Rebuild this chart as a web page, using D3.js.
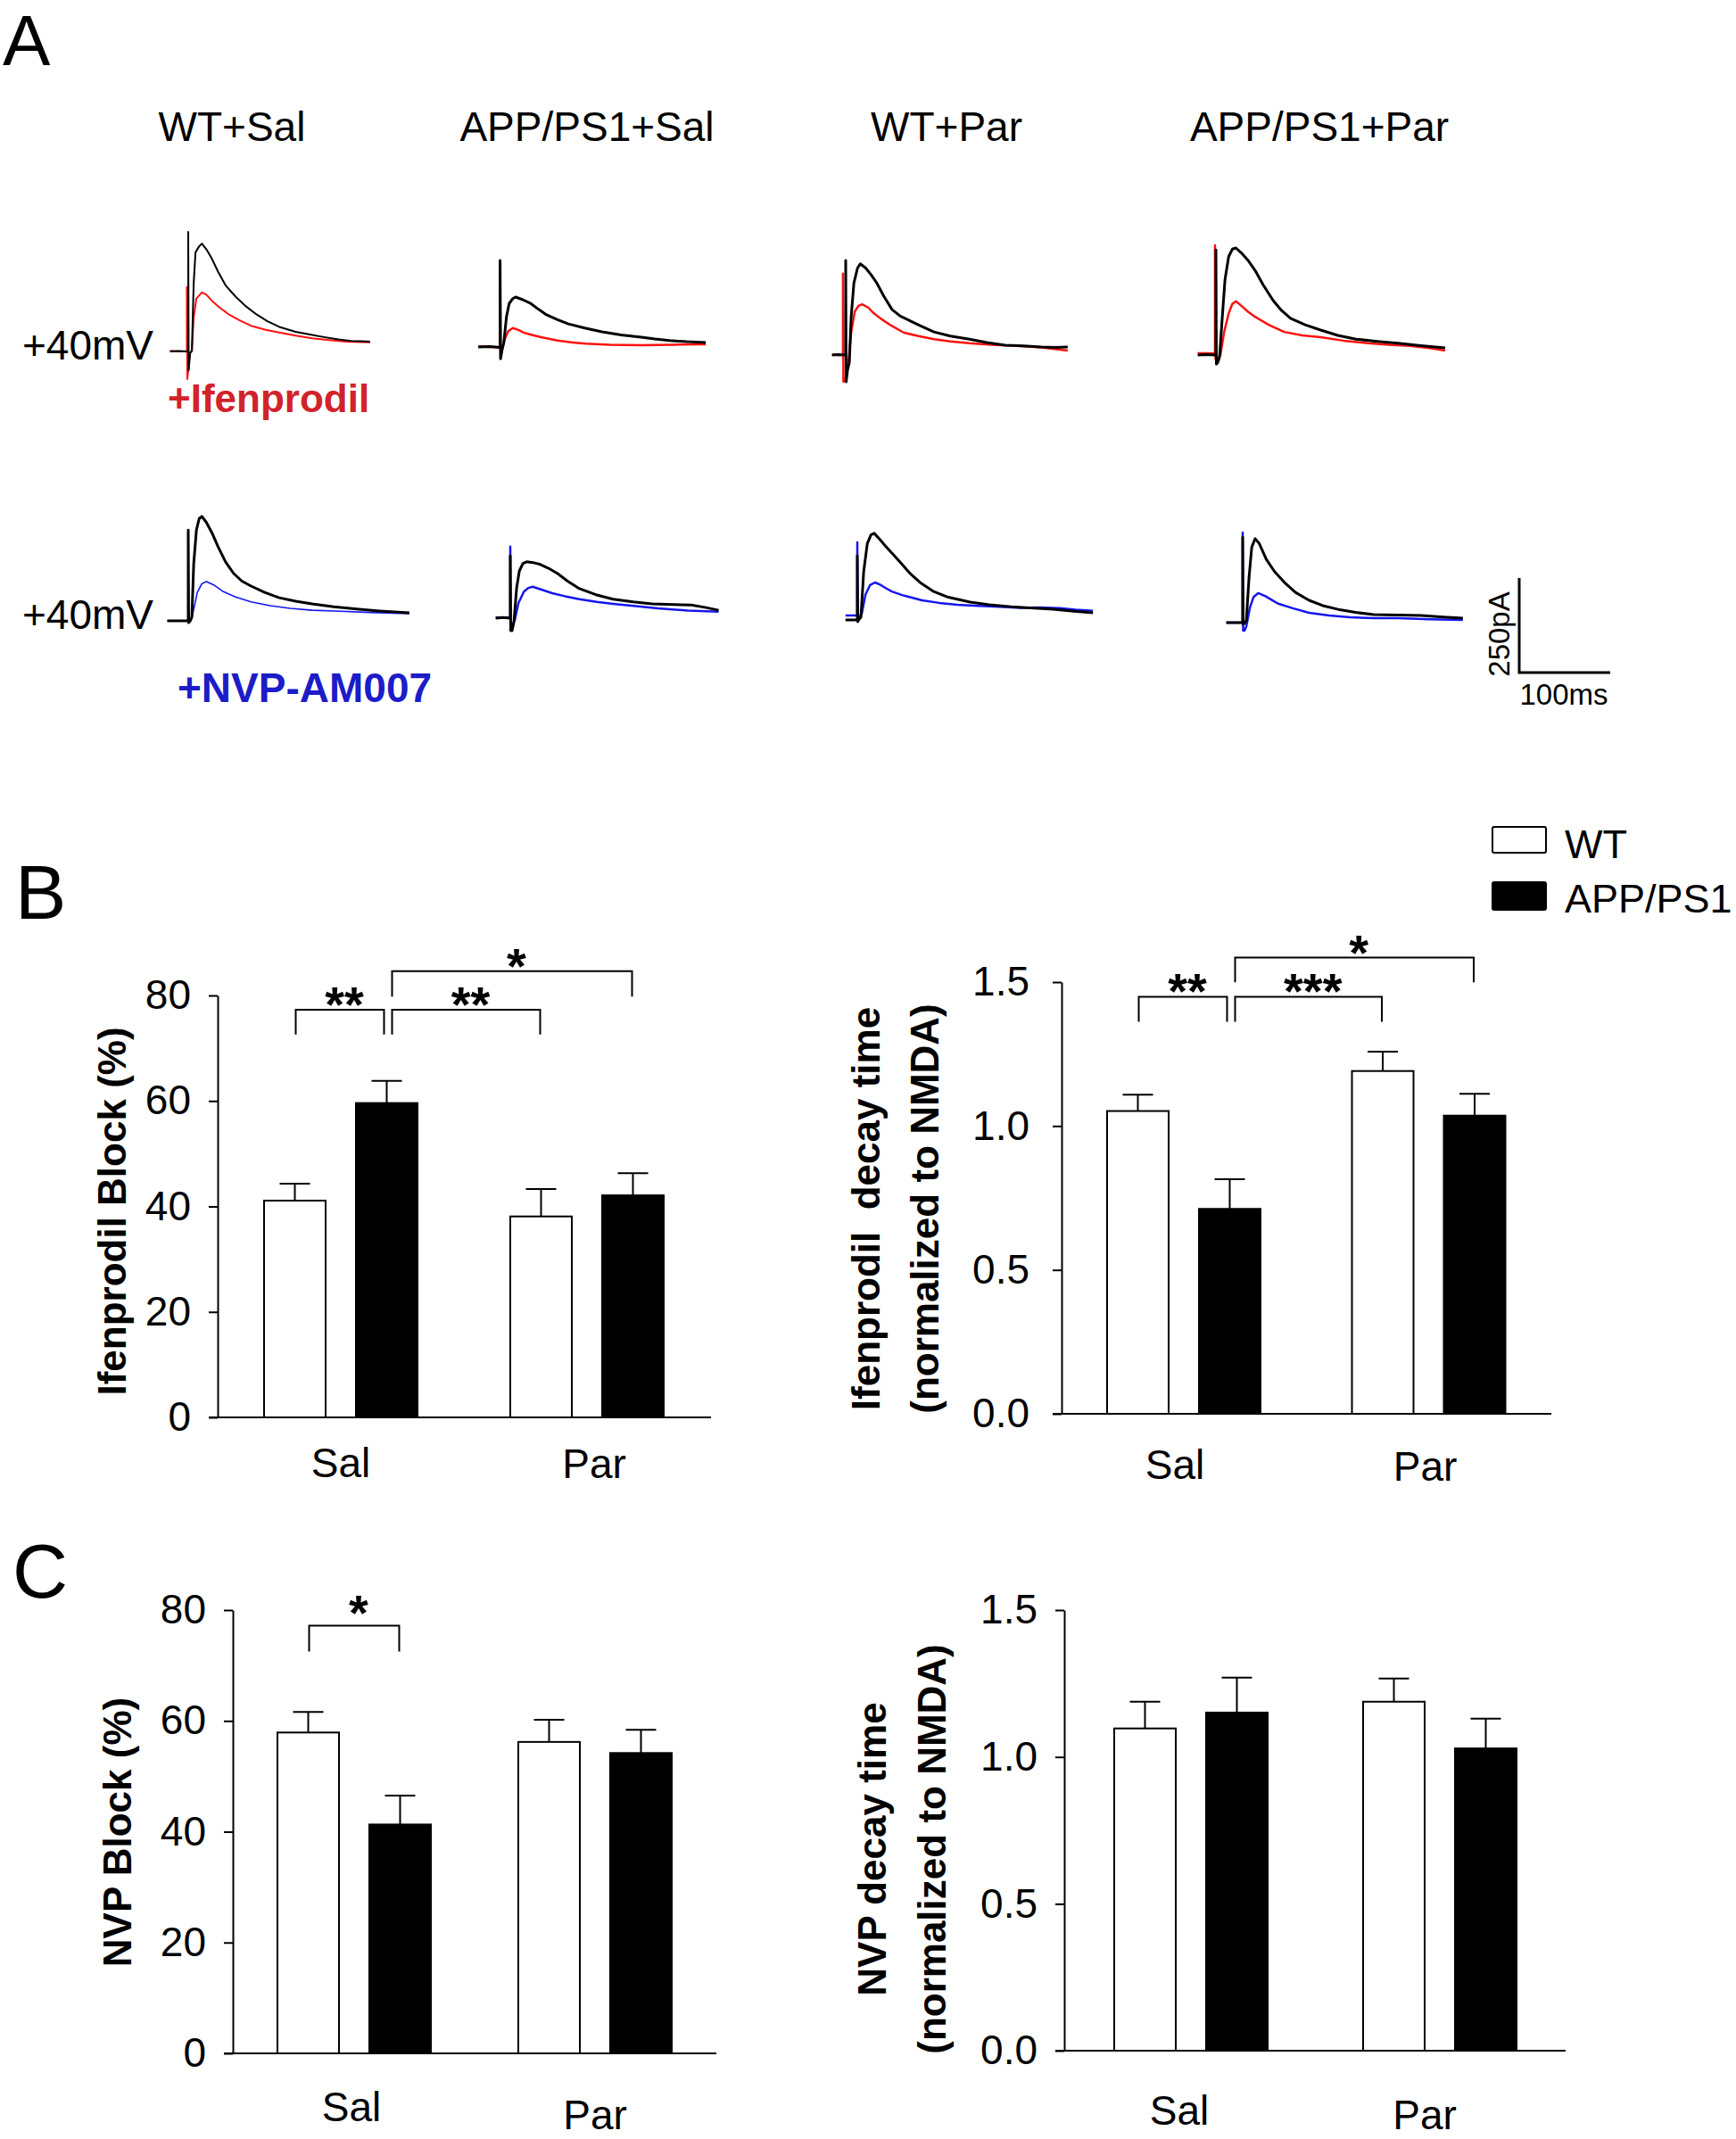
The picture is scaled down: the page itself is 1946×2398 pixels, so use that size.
<!DOCTYPE html>
<html><head><meta charset="utf-8">
<script src="https://cdn.jsdelivr.net/npm/d3@7"></script>
<style>
html,body{margin:0;padding:0;background:#fff;}
svg{display:block;font-family:"Liberation Sans",Arial,Helvetica,sans-serif;}
</style></head><body>
<svg id="fig" width="1946" height="2398"></svg>
<script>
// ================= DATA =================
const conditions = ["WT+Sal", "APP/PS1+Sal", "WT+Par", "APP/PS1+Par"];
const categories = ["Sal", "Par"];
const genotypes = ["WT", "APP/PS1"];

// Panel A traces: [time (ms from stimulus), current (pA from baseline)]
const ifenCtrlWTSal = [[-20,0],[-10,1],[-1,0],[0,0],[0,316],[0.5,-50],[2,-5],[4,2],[6,180],[8,262],[12,278],[15,285],[20,270],[26,245],[33,210],[41,175],[52,145],[63,120],[75,98],[87,80],[100,65],[118,52],[135,44],[149,38],[165,32],[179,28],[190,27],[200,26]];
const ifenDrugWTSal = [[-20,2],[-10,0],[-2.5,0],[-1.5,0],[-1.5,170],[-1,-73],[2,-3],[4,0],[6,90],[9,140],[15,156],[20,150],[26,134],[35,115],[44,99],[56,83],[69,68],[85,57],[100,50],[118,42],[136,35],[155,30],[173,26],[190,25],[200,24]];
const ifenCtrlAPPSal = [[-24,0],[-12,1],[-1,-1],[0,-1],[0,229],[0.5,-31],[2,-10],[4,10],[7,80],[10,115],[14,128],[17,132],[25,125],[33,116],[42,100],[51,85],[63,72],[75,61],[93,50],[112,40],[133,32],[155,26],[170,21],[186,17],[205,14],[226,12]];
const ifenDrugAPPSal = [[-24,2],[-12,0],[-1,0],[0,0],[0,200],[0.5,-20],[2,-5],[5,20],[9,42],[14,50],[20,45],[26,38],[33,33],[45,26],[63,17],[80,12],[94,9],[120,6],[155,5],[190,6],[226,7]];
const ifenCtrlWTPar = [[-15,0],[-8,1],[-1,0],[0,0],[0,250],[0.5,-71],[2,-40],[4,-20],[6,100],[9,190],[13,230],[16,241],[22,230],[28,212],[34,191],[42,155],[51,120],[60,103],[71,90],[84,75],[97,61],[115,50],[136,42],[155,33],[175,26],[195,24],[215,21],[230,20],[244,21]];
const ifenDrugWTPar = [[-15,1],[-8,0],[-4,0],[-3,0],[-3,215],[-2.5,-71],[0,-60],[3,-20],[6,60],[10,115],[14,130],[18,134],[25,125],[31,110],[38,97],[50,78],[64,59],[80,50],[97,42],[115,36],[136,31],[160,27],[188,24],[215,20],[244,12]];
const ifenCtrlAPPPar = [[-20,0],[-10,1],[-1,0],[0,0],[0,278],[0.5,-24],[2,-20],[4,-5],[7,100],[10,200],[14,260],[18,280],[22,283],[28,270],[36,248],[43,224],[52,185],[63,144],[72,118],[82,97],[98,80],[115,66],[134,52],[154,42],[177,36],[200,31],[225,25],[252,19]];
const ifenDrugAPPPar = [[-20,5],[-10,5],[-2,4],[-1,4],[-1,290],[-0.5,-10],[2,-10],[5,0],[9,60],[14,110],[18,135],[22,142],[28,130],[35,115],[43,101],[58,80],[75,61],[95,52],[115,47],[140,38],[167,31],[190,27],[213,24],[235,18],[252,12]];

const nvpCtrlWTSal = [[-23,0],[-12,0],[-1,0],[0,0],[0,240],[0.5,-5],[2,0],[4,10],[6,150],[9,240],[12,270],[15,276],[20,260],[26,233],[33,195],[41,156],[50,125],[59,105],[69,92],[84,75],[100,61],[118,52],[136,45],[160,37],[185,31],[210,26],[243,21]];
const nvpDrugWTSal = [[-23,0],[-12,0],[0,0],[3,0],[6,30],[10,75],[15,98],[20,104],[28,95],[38,78],[52,63],[69,50],[90,40],[112,33],[136,28],[161,26],[200,22],[243,19]];
const nvpCtrlAPPSal = [[-16,0],[-8,2],[-1,0],[0,0],[0,165],[0.5,-33],[2,-33],[4,-10],[7,80],[10,125],[14,145],[18,149],[25,147],[33,142],[42,132],[52,118],[63,98],[76,78],[94,62],[113,50],[135,43],[156,38],[180,36],[199,35],[215,28],[229,21]];
const nvpDrugAPPSal = [[-16,2],[-8,2],[-1,2],[0,2],[0,189],[0.5,-10],[2,-20],[5,-5],[9,40],[15,70],[20,80],[24.5,83],[35,75],[46,66],[60,58],[76,50],[95,43],[113,38],[138,32],[162,26],[195,20],[229,17]];
const nvpCtrlWTPar = [[-13,-7],[-6,-7],[-1,-7],[0,-7],[0,163],[0.5,-12],[2,-5],[4,0],[7,120],[11,195],[15,218],[18.6,222],[25,205],[31,188],[38,170],[48,143],[58,116],[70,90],[84,68],[100,53],[124,40],[145,33],[169,28],[190,25],[215,21],[238,16],[259,12]];
const nvpDrugWTPar = [[-13,5],[-6,5],[-1,5],[0,5],[0,198],[0.5,0],[2,0],[5,10],[9,60],[14,85],[19.6,92],[26,85],[32,76],[38,68],[50,58],[60,52],[71,45],[90,38],[110,33],[133,30],[156,28],[180,25],[200,26],[222,24],[240,20],[259,17]];
const nvpCtrlAPPPar = [[-18,0],[-9,0],[-1,0],[0,0],[0,226],[0.5,-5],[2,-2],[4,5],[7,120],[10,200],[13.7,222],[18,210],[26,167],[35,135],[46,106],[58,80],[73,59],[88,45],[105,35],[124,27],[144,21],[170,20],[196,19],[220,15],[242,12]];
const nvpDrugAPPPar = [[-18,0],[-9,0],[-1,0],[0,0],[0,238],[0.5,-21],[2,-21],[4,-10],[8,40],[12,68],[17,78],[25,70],[32,60],[39,50],[55,38],[73,26],[95,19],[118,14],[145,12],[171,12],[205,9],[242,7]];

const ifenTraces = [[ifenCtrlWTSal, ifenDrugWTSal], [ifenCtrlAPPSal, ifenDrugAPPSal], [ifenCtrlWTPar, ifenDrugWTPar], [ifenCtrlAPPPar, ifenDrugAPPPar]];
const nvpTraces = [[nvpCtrlWTSal, nvpDrugWTSal], [nvpCtrlAPPSal, nvpDrugAPPSal], [nvpCtrlWTPar, nvpDrugWTPar], [nvpCtrlAPPPar, nvpDrugAPPPar]];
const scaleBarValues = [250, 100]; // pA, ms

// Panel B
const ifenBlockWT = [41.1, 38.1];
const ifenBlockWTErr = [3.2, 5.2];
const ifenBlockAPP = [59.6, 42.1];
const ifenBlockAPPErr = [4.2, 4.2];
const blockTicks = [0, 20, 40, 60, 80];

const ifenDecayWT = [1.052, 1.191];
const ifenDecayWTErr = [0.057, 0.067];
const ifenDecayAPP = [0.712, 1.036];
const ifenDecayAPPErr = [0.103, 0.076];
const decayTicks = [0, 0.5, 1.0, 1.5];

// Panel C
const nvpBlockWT = [57.9, 56.2];
const nvpBlockWTErr = [3.7, 4.0];
const nvpBlockAPP = [41.3, 54.2];
const nvpBlockAPPErr = [5.2, 4.2];

const nvpDecayWT = [1.097, 1.188];
const nvpDecayWTErr = [0.091, 0.079];
const nvpDecayAPP = [1.151, 1.029];
const nvpDecayAPPErr = [0.119, 0.101];

// significance brackets: [from category, from genotype, to category, to genotype, top value, leg bottom value, label]
const ifenBlockSig = [["Sal","WT","Sal","APP/PS1",77.3,72.6,"**"],["Sal","APP/PS1","Par","WT",77.3,72.6,"**"],["Sal","APP/PS1","Par","APP/PS1",84.6,79.8,"*"]];
const ifenDecaySig = [["Sal","WT","Sal","APP/PS1",1.449,1.362,"**"],["Sal","APP/PS1","Par","WT",1.449,1.362,"***"],["Sal","APP/PS1","Par","APP/PS1",1.585,1.499,"*"]];
const nvpBlockSig = [["Sal","WT","Sal","APP/PS1",77.2,72.5,"*"]];
const nvpDecaySig = [];

// ================= DRAWING =================
const svg = d3.select("#fig");
const FONT = "'Liberation Sans', Arial, Helvetica, sans-serif";

function txt(x, y, s, size, opts = {}) {
  const t = svg.append("text").attr("x", x).attr("y", y).text(s)
    .attr("font-size", size).attr("font-family", FONT)
    .attr("font-weight", opts.bold ? "bold" : "normal")
    .attr("fill", opts.fill || "#000")
    .attr("text-anchor", opts.anchor || "start");
  if (opts.rotate) t.attr("transform", `rotate(-90,${x},${y})`);
  t.style("white-space", "pre").attr("xml:space", "preserve");
  return t;
}

// Panel letters
txt(3, 73, "A", 80);
txt(17, 1030, "B", 86);
txt(14, 1791, "C", 86);

// ---- Panel A ----
const titleX = [260, 658, 1061, 1479];
conditions.forEach((c, i) => txt(titleX[i], 158, c, 46, {anchor: "middle"}));
txt(25, 403, "+40mV", 46);
txt(25, 705, "+40mV", 46);
txt(188, 462, "+Ifenprodil", 44, {bold: true, fill: "#d2232a"});
txt(199, 787, "+NVP-AM007", 46, {bold: true, fill: "#1c1cc8"});

const tx = d3.scaleLinear().domain([0, 100]).range([0, 102]);
const ty = d3.scaleLinear().domain([0, 250]).range([0, -106]);
const traceLine = d3.line().x(d => tx(d[0])).y(d => ty(d[1])).curve(d3.curveLinear);

const row1Origins = [[211, 394], [560.6, 389], [948, 398], [1363, 398]];
const row2Origins = [[211, 696], [572, 693], [961, 692], [1393, 698]];
const row1Widths = [[2, 2], [3, 2.5], [3, 2.5], [3, 2.5]];
const row2Widths = [[3, 1.6], [3, 2.5], [3, 2.5], [3, 2.5]];

function drawTraces(traces, origins, widths, drugColor) {
  traces.forEach((pair, i) => {
    const g = svg.append("g").attr("transform", `translate(${origins[i][0]},${origins[i][1]})`);
    g.append("path").datum(pair[1]).attr("d", traceLine)
      .attr("fill", "none").attr("stroke", drugColor).attr("stroke-width", widths[i][1])
      .attr("stroke-linejoin", "round");
    g.append("path").datum(pair[0]).attr("d", traceLine)
      .attr("fill", "none").attr("stroke", "#000").attr("stroke-width", widths[i][0])
      .attr("stroke-linejoin", "round");
  });
}
drawTraces(ifenTraces, row1Origins, row1Widths, "#ff1010");
drawTraces(nvpTraces, row2Origins, row2Widths, "#1515ee");

// scale bar
const sb = svg.append("g").attr("transform", "translate(1703,754)");
sb.append("path")
  .attr("d", `M${tx(0)},${ty(scaleBarValues[0])}V${ty(0)}H${tx(scaleBarValues[1])}`)
  .attr("fill", "none").attr("stroke", "#000").attr("stroke-width", 3);
txt(1692, 711, scaleBarValues[0] + "pA", 33, {anchor: "middle", rotate: true});
txt(1753, 790, scaleBarValues[1] + "ms", 33, {anchor: "middle"});

// ---- Legend ----
svg.append("rect").attr("x", 1673).attr("y", 927).attr("width", 60).attr("height", 29).attr("rx", 2)
  .attr("fill", "#fff").attr("stroke", "#000").attr("stroke-width", 2);
svg.append("rect").attr("x", 1673).attr("y", 989).attr("width", 60).attr("height", 31).attr("rx", 2)
  .attr("fill", "#000").attr("stroke", "#000").attr("stroke-width", 2);
txt(1754, 962, genotypes[0], 45);
txt(1754, 1023, genotypes[1], 45);

// ---- Bar panels ----
function barPanel(cfg) {
  const y = d3.scaleLinear().domain(cfg.domain).range([cfg.y0, cfg.yTop]);
  const xg = d3.scalePoint().domain(categories).range(cfg.groupCenters);
  const xi = d3.scaleBand().domain(genotypes).range([-cfg.inner, cfg.inner]).paddingInner(0.33);
  const bw = xi.bandwidth();
  const center = (c, g) => xg(c) + xi(g) + bw / 2;
  const g = svg.append("g");

  const bars = categories.flatMap((c, i) => [
    {c, g: "WT", v: cfg.wt[i], e: cfg.wtErr[i]},
    {c, g: "APP/PS1", v: cfg.app[i], e: cfg.appErr[i]}
  ]);
  // error bars
  bars.forEach(b => {
    const cx = center(b.c, b.g);
    g.append("line").attr("x1", cx).attr("x2", cx).attr("y1", y(b.v)).attr("y2", y(b.v + b.e))
      .attr("stroke", "#000").attr("stroke-width", 2);
    g.append("line").attr("x1", cx - 17).attr("x2", cx + 17).attr("y1", y(b.v + b.e)).attr("y2", y(b.v + b.e))
      .attr("stroke", "#000").attr("stroke-width", 2);
  });
  g.selectAll("rect.bar").data(bars).join("rect").attr("class", "bar")
    .attr("x", d => xg(d.c) + xi(d.g)).attr("width", bw)
    .attr("y", d => y(d.v)).attr("height", d => cfg.y0 - y(d.v))
    .attr("fill", d => d.g === "WT" ? "#fff" : "#000")
    .attr("stroke", "#000").attr("stroke-width", 2);

  // y axis
  const ax = g.append("g").attr("transform", `translate(${cfg.axisX},0)`)
    .call(d3.axisLeft(y).tickValues(cfg.ticks).tickFormat(cfg.fmt).tickSize(10).tickSizeOuter(0).tickPadding(cfg.pad));
  ax.attr("font-family", FONT).attr("font-size", 46);
  ax.selectAll("path.domain").attr("stroke", "#000").attr("stroke-width", 2);
  ax.selectAll(".tick line").attr("stroke", "#000").attr("stroke-width", 2);
  ax.selectAll(".tick text").attr("fill", "#000");
  // x axis baseline
  g.append("line").attr("x1", cfg.axisX - 10).attr("x2", cfg.xEnd).attr("y1", cfg.y0).attr("y2", cfg.y0)
    .attr("stroke", "#000").attr("stroke-width", 2);

  // category labels
  categories.forEach((c, i) => txt(xg(c) + cfg.catDx[i], cfg.catY[i], c, 46, {anchor: "middle"}));

  // y label
  cfg.ylabel.forEach((s, i) => txt(cfg.ylabelX[i], cfg.ylabelY, s, 44, {bold: true, anchor: "middle", rotate: true}));

  // significance brackets
  cfg.sig.forEach(s => {
    const sharedFrom = cfg.sig.some(o => o !== s && o[2] === s[0] && o[3] === s[1]);
    const sharedTo = cfg.sig.some(o => o !== s && o[0] === s[2] && o[1] === s[3]);
    const x1 = center(s[0], s[1]) + (sharedFrom ? 6 : 1);
    const x2 = center(s[2], s[3]) - (sharedTo ? 3 : 1);
    g.append("path").attr("d", `M${x1},${y(s[5])}V${y(s[4])}H${x2}V${y(s[5])}`)
      .attr("fill", "none").attr("stroke", "#000").attr("stroke-width", 2);
    txt((x1 + x2) / 2 + 5, y(s[4]) + cfg.starDy, s[6], 56, {bold: true, anchor: "middle"});
  });
}

const f0 = d3.format("d"), f1 = d3.format(".1f");

barPanel({domain: [0, 80], ticks: blockTicks, fmt: f0, y0: 1589, yTop: 1116, axisX: 244, xEnd: 797,
  groupCenters: [382, 658], inner: 86, pad: 20, wt: ifenBlockWT, wtErr: ifenBlockWTErr, app: ifenBlockAPP, appErr: ifenBlockAPPErr,
  catDx: [0, 8], catY: [1656, 1657], ylabel: ["Ifenprodil Block (%)"], ylabelX: [141], ylabelY: 1358, sig: ifenBlockSig, starDy: 13});

barPanel({domain: [0, 1.5], ticks: decayTicks, fmt: f1, y0: 1585, yTop: 1101, axisX: 1190, xEnd: 1739,
  groupCenters: [1327, 1601.5], inner: 86, pad: 26, wt: ifenDecayWT, wtErr: ifenDecayWTErr, app: ifenDecayAPP, appErr: ifenDecayAPPErr,
  catDx: [-10, -4], catY: [1658, 1660], ylabel: ["Ifenprodil  decay time", "(normalized to NMDA)"], ylabelX: [986, 1052], ylabelY: 1355, sig: ifenDecaySig, starDy: 13});

barPanel({domain: [0, 80], ticks: blockTicks, fmt: f0, y0: 2302, yTop: 1805, axisX: 261, xEnd: 803,
  groupCenters: [397, 667], inner: 86, pad: 20, wt: nvpBlockWT, wtErr: nvpBlockWTErr, app: nvpBlockAPP, appErr: nvpBlockAPPErr,
  catDx: [-3, 0], catY: [2378, 2387], ylabel: ["NVP Block (%)"], ylabelX: [147], ylabelY: 2054, sig: nvpBlockSig, starDy: 5});

barPanel({domain: [0, 1.5], ticks: decayTicks, fmt: f1, y0: 2299, yTop: 1805, axisX: 1193, xEnd: 1755,
  groupCenters: [1335, 1614], inner: 86, pad: 20, wt: nvpDecayWT, wtErr: nvpDecayWTErr, app: nvpDecayAPP, appErr: nvpDecayAPPErr,
  catDx: [-13, -17], catY: [2382, 2387], ylabel: ["NVP decay time", "(normalized to NMDA)"], ylabelX: [993, 1060], ylabelY: 2073, sig: nvpDecaySig, starDy: 13});
</script>
</body></html>
